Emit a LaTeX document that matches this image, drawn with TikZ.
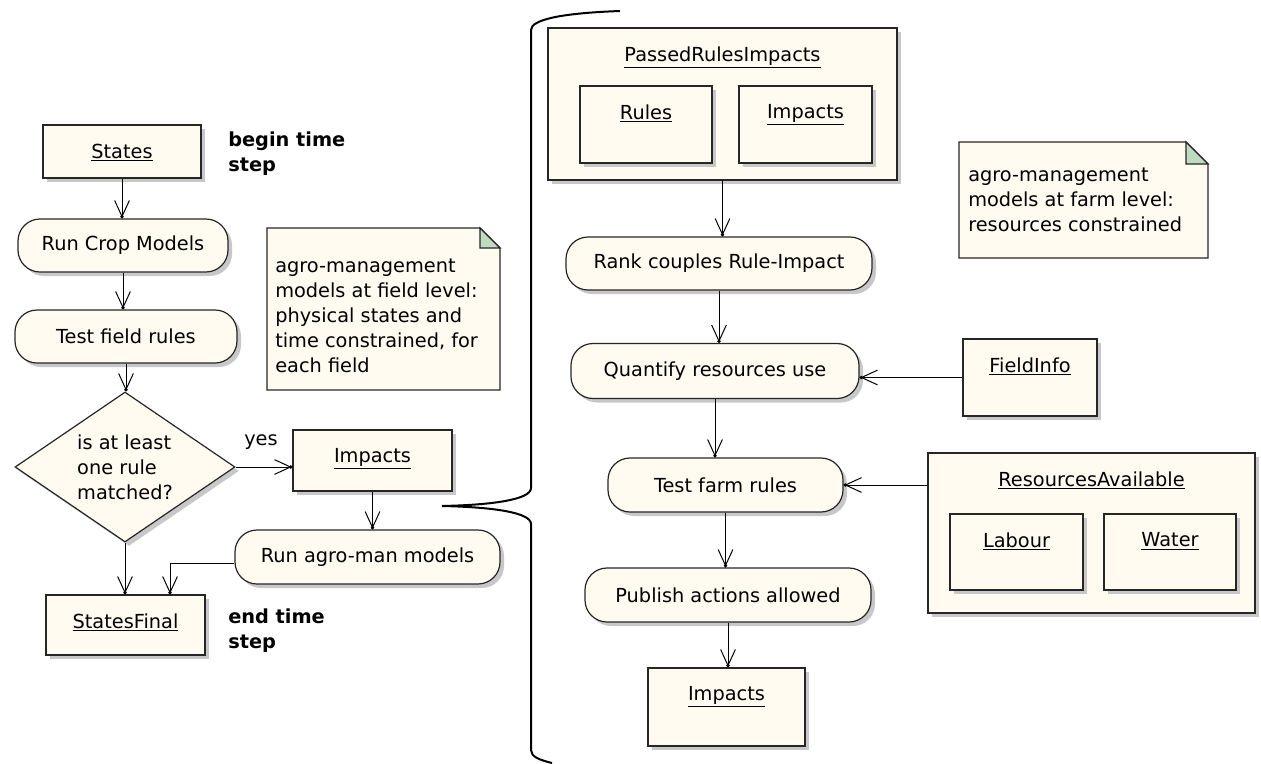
\documentclass[tikz,border=0pt]{standalone}
\usepackage{fontspec}
\setmainfont{DejaVu Sans}
\usetikzlibrary{arrows.meta,shapes.geometric,shadows}
\definecolor{cream}{RGB}{255,251,240}
\definecolor{shade}{RGB}{200,200,200}
\definecolor{fold}{RGB}{192,220,192}
\tikzset{
	sz/.style 2 args={minimum width=#1*0.75pt, minimum height=#2*0.75pt},
	box/.style={draw=black!85, line width=0.9pt, fill=cream, inner sep=0pt,
		general shadow={fill=shade, shadow xshift=3pt, shadow yshift=-3pt}},
	obj/.style={box},
	act/.style={box, rounded corners=16.5pt},
	choice/.style={box, diamond, aspect=1.467, align=left},
	oname/.style={anchor=north, inner sep=0pt, yshift=-19*0.75pt},
	flow/.style={line width=0.75pt, -{Straight Barb[length=12pt,width=11pt,sep=-2pt]Circle[length=2.5pt]}},
	notebox/.style={draw=black!85, line width=0.9pt, fill=cream},
	notetext/.style={anchor=north west, inner sep=0pt, align=left},
	stamp/.style={anchor=north west, inner sep=0pt, align=left, font=\fontsize{14.5pt}{18.5pt}\selectfont\bfseries},
	brace/.style={line width=1.5pt}
}

\begin{document}
\begin{tikzpicture}[x=0.75pt, y=-0.75pt, font=\fontsize{14.5pt}{18.75pt}\selectfont]
			%%%%% START %%%%%
			\useasboundingbox (0,0) rectangle (1261,764);
			
			% field level
			\node[obj, sz={158}{53}] (states) at (122,151.5) {};
			\node[oname] at (states.north) {\underline{States}};
			\node[stamp] (beginStep) at (228,132) {begin time\\step};
			
			\node[act, sz={210}{53}] (runCrop) at (123,245.5) {Run Crop Models};
			\node[act, sz={222}{53}] (testField) at (126,336.5) {Test field rules};
			\node[choice, sz={220}{150}] (matched) at (125,467) {is at least\\one rule\\matched?};
			\node (yes) at (261,442) {yes};
			
			\node[obj, sz={159}{61}] (impField) at (372.5,460.5) {};
			\node[oname] at (impField.north) {\underline{Impacts}};
			\node[act, sz={265}{54}] (runAgro) at (367.5,557) {Run agro-man models};
			
			\node[obj, sz={159}{60}] (statesFinal) at (125.5,625) {};
			\node[oname] at (statesFinal.north) {\underline{StatesFinal}};
			\node[stamp] (endStep) at (228,609) {end time\\step};
			\coordinate (drop) at ([xshift=33.4pt]statesFinal.north);
			
			\draw[flow] (states.south) -- (states.south |- runCrop.north);
			\draw[flow] (runCrop.south) -- (runCrop.south |- testField.north);
			\draw[flow] (testField.south) -- (testField.south |- matched.north);
			\draw[flow] (matched.east) -- (matched.east -| impField.west);
			\draw[flow] (impField.south) -- (impField.south |- runAgro.north);
			\draw[flow] (matched.south) -- (matched.south |- statesFinal.north);
			\draw[flow] ([yshift=-4.5pt]runAgro.west) -| (drop);
			
			\draw[notebox] (267,228) -- (480,228) -- (500,248) -- (500,390) -- (267,390) -- cycle;
			\draw[notebox, fill=fold] (480,228) -- (480,248) -- (500,248) -- cycle;
			\node[notetext] (fieldNote) at (275,259) {agro-management\\models at field level:\\physical states and\\time constrained, for\\each field};
			
			% brace
			\draw[brace] (620,11) .. controls (565,13) and (531,19) .. (531,30) -- (531,488)
				.. controls (531,500) and (490,505) .. (442,506)
				.. controls (490,507) and (531,512) .. (531,524) -- (531,750)
				.. controls (531,757) and (540,760) .. (552,763);
			
			% farm level
			\node[obj, sz={349}{152}] (passed) at (722.5,104) {};
			\node[oname] at (passed.north) {\underline{PassedRulesImpacts}};
			\node[obj, sz={132}{77}] (rules) at (646,124.5) {};
			\node[oname] at (rules.north) {\underline{Rules}};
			\node[obj, sz={133}{77}] (impPassed) at (805.5,124.5) {};
			\node[oname] at (impPassed.north) {\underline{Impacts}};
			
			\node[act, sz={306}{53}] (rank) at (719,263.5) {Rank couples Rule-Impact};
			\node[act, sz={288}{55}] (quantify) at (715,371) {Quantify resources use};
			\node[obj, sz={134}{77}] (fieldInfo) at (1030,377.5) {};
			\node[oname] at (fieldInfo.north) {\underline{FieldInfo}};
			
			\node[act, sz={235}{54}] (testFarm) at (725.5,485) {Test farm rules};
			\node[obj, sz={327}{160}] (resources) at (1091.5,533) {};
			\node[oname] at (resources.north) {\underline{ResourcesAvailable}};
			\node[obj, sz={133}{76}] (labour) at (1016.5,552) {};
			\node[oname] at (labour.north) {\underline{Labour}};
			\node[obj, sz={132}{76}] (water) at (1170,552) {};
			\node[oname] at (water.north) {\underline{Water}};
			
			\node[act, sz={286}{54}] (publish) at (728,595) {Publish actions allowed};
			\node[obj, sz={157}{78}] (impFarm) at (726.5,707) {};
			\node[oname] at (impFarm.north) {\underline{Impacts}};
			
			\draw[flow] (passed.south) -- (passed.south |- rank.north);
			\draw[flow] (rank.south) -- (rank.south |- quantify.north);
			\draw[flow] (fieldInfo.west) -- (fieldInfo.west -| quantify.east);
			\draw[flow] (quantify.south) -- (quantify.south |- testFarm.north);
			\draw[flow] (testFarm.east -| resources.west) -- (testFarm.east);
			\draw[flow] (testFarm.south) -- (testFarm.south |- publish.north);
			\draw[flow] (publish.south) -- (publish.south |- impFarm.north);
			
			\draw[notebox] (959,142) -- (1186,142) -- (1208,164) -- (1208,258) -- (959,258) -- cycle;
			\draw[notebox, fill=fold] (1186,142) -- (1186,164) -- (1208,164) -- cycle;
			\node[notetext] (farmNote) at (968,168) {agro-management\\models at farm level:\\resources constrained};
			
			%%%%% END %%%%%
\end{tikzpicture}
\end{document}
